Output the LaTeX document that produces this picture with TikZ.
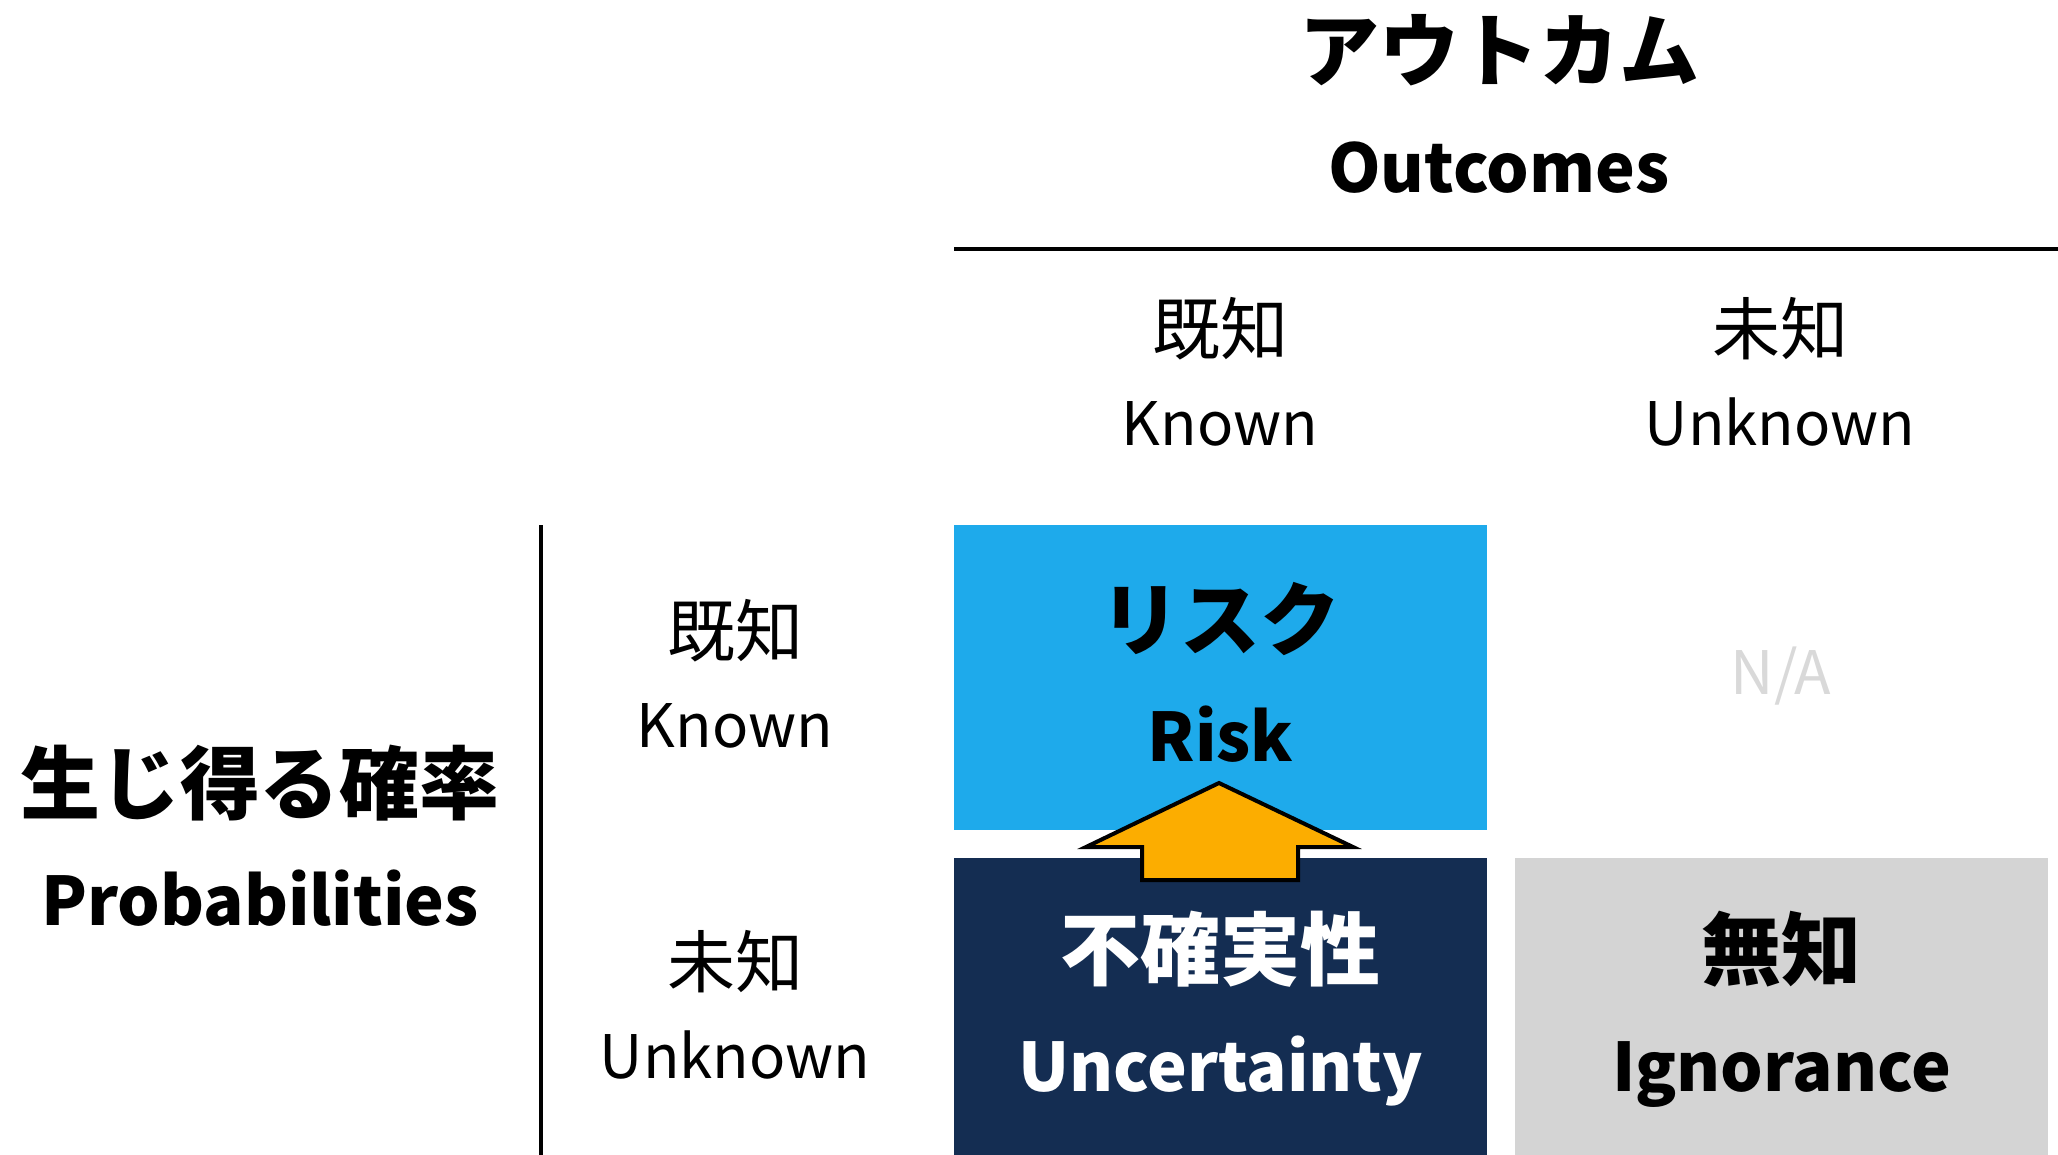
\documentclass[tikz,border=0pt]{standalone}
\usepackage{fontspec}
\setmainfont{Noto Sans CJK JP}
\usetikzlibrary{positioning}
\definecolor{riskblue}{HTML}{1EAAEB}
\definecolor{uncnavy}{HTML}{142D52}
\definecolor{igngray}{HTML}{D4D4D4}
\definecolor{arroworange}{HTML}{FCAD00}
\definecolor{nagray}{HTML}{D9D9D9}
% Japanese lines are set a little larger than the Latin ones
\newcommand{\jpl}[1]{{\fontsize{34}{45.5}\selectfont #1}}
\newcommand{\jpt}[1]{{\fontsize{40}{56}\selectfont #1}}
\tikzset{
  lbl/.style={align=center, inner sep=0pt, font=\fontsize{30}{45.5}\selectfont},
  ttl/.style={align=center, inner sep=0pt, font=\bfseries\fontsize{33.5}{56}\selectfont},
  cell/.style={minimum width=266.5pt, minimum height=#1, inner sep=0pt},
  rule/.style={line width=2pt}
}
\begin{document}
\begin{tikzpicture}[x=0.5pt, y=-0.5pt]
    \useasboundingbox (0,0) rectangle (2058,1155);
    % Header
    \node[ttl] (outcomes) at (1499,104) {\jpt{アウトカム}\\Outcomes};
    \coordinate (topl) at (954,249);
    \coordinate (topr) at (2058,249);
    \draw[rule] (topl) -- (topr);
    \node[lbl] (colknown) at (1220,372) {\jpl{既知}\\Known};
    \node[lbl] (colunknown) at (1780,372) {\jpl{未知}\\Unknown};
    % Side
    \node[ttl] (probs) at (260,836) {\jpt{生じ得る確率}\\Probabilities};
    \coordinate (sidet) at (541,525);
    \coordinate (sideb) at (541,1155);
    \draw[rule] (sidet) -- (sideb);
    \node[lbl] (rowknown) at (735,674) {\jpl{既知}\\Known};
    \node[lbl] (rowunknown) at (735,1005) {\jpl{未知}\\Unknown};
    % Cells
    \node[cell=152.5pt, fill=riskblue] (risk) at (1220.5,677.5) {};
    \node[cell=148.5pt, fill=uncnavy] (uncert) at (1220.5,1006.5) {};
    \node[cell=148.5pt, fill=igngray] (ignor) at (1781.5,1006.5) {};
    \node[ttl] (risklbl) at (1220.5,672) {\jpt{リスク}\\Risk};
    \node[lbl, text=nagray] (na) at (1781,676) {N/A};
    \node[ttl, text=white] (uncertlbl) at (1220.5,1009) {\jpt{不確実性}\\Uncertainty};
    \node[ttl] (ignorlbl) at (1781.5,1009) {\jpt{無知}\\Ignorance};
    % Arrow
    \draw[line width=2pt, fill=arroworange, line join=miter]
        (1219,783) -- (1353,847) -- (1298,847) -- (1298,880) -- (1142,880)
        -- (1142,847) -- (1086,847) -- cycle;
\end{tikzpicture}
\end{document}
